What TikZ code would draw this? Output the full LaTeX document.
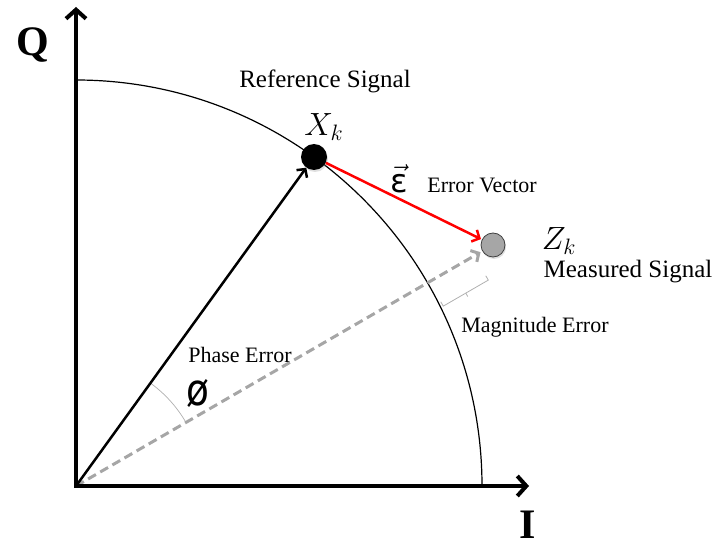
\documentclass[tikz,border=0pt]{standalone}
\usepackage{fontspec}
\setmainfont{Liberation Serif}
\newfontfamily\dejavu{DejaVu Sans}
\usetikzlibrary{arrows.meta,shadows}
\definecolor{dgray}{HTML}{A6A6A6}
\definecolor{lgray}{HTML}{B0B0B0}
\definecolor{redvec}{HTML}{FF0000}
\begin{document}
\begin{tikzpicture}[x=1pt,y=1pt,
  axisline/.style={line width=4pt, line join=miter,
    {Straight Barb[length=9pt,width=20pt]}-{Straight Barb[length=9pt,width=20pt]}},
  vecline/.style={line width=2.5pt, -{Straight Barb[length=6pt,width=13pt]}},
  lbl/.style={inner sep=0pt, font=\fontsize{22}{26}\selectfont},
  biglbl/.style={inner sep=0pt, font=\fontsize{25}{30}\selectfont},
  axlbl/.style={inner sep=0pt, font=\fontsize{42}{48}\selectfont\bfseries},
  mathlbl/.style={inner sep=0pt, font=\fontsize{20}{24}\selectfont, scale=1.55},
  dot/.style={circle, inner sep=0pt, drop shadow={opacity=0.25, shadow xshift=1pt, shadow yshift=-2pt}}
]
\useasboundingbox (0,0) rectangle (717,547);
\coordinate (O) at (76,61);
\coordinate (Qend) at (76,540);
\coordinate (Iend) at (529,61);

% reference circle arc
\draw[line width=1.2pt] (O) ++(406,0) arc[start angle=0, end angle=90, radius=406];

% phase arc
\draw[lgray, line width=0.7pt] (O) ++(30.02:127) arc[start angle=30.02, end angle=54.1, radius=127];

% magnitude error bracket
\begin{scope}[shift={(O)}, rotate=30.02]
  \draw[lgray, line width=0.8pt] (408,-23) -- (408,-28) -- (460,-28) -- (460,-23);
  \draw[lgray, line width=0.8pt] (434,-28) -- (434,-32);
\end{scope}

% dots
\node[dot, fill=black, minimum size=26pt] (Xk) at (314,390) {};
\node[dot, fill=dgray, draw=black!75, line width=0.8pt, minimum size=24pt] (Zk) at (493,302) {};

% vectors
\draw[dgray, line width=3pt, dash pattern=on 9pt off 5pt,
  -{Straight Barb[length=6pt,width=13pt]}, shorten >=2pt] (O) -- (Zk);
\draw[vecline] (O) -- (Xk);
\draw[vecline, redvec, shorten >=1pt] (Xk) -- (Zk);

% axes
\draw[axisline] (Qend) -- (O) -- (Iend);

% labels
\node[axlbl] (Q) at (33,502) {Q};
\node[axlbl] (I) at (528,22) {I};
\node[biglbl] (ref) at (325,466) {Reference Signal};
\node[mathlbl] (xk) at (324,420) {$X_k$};
\node[inner sep=0pt, font=\fontsize{24}{28}\selectfont, scale=1.35] (eps) at (399,368) {$\vec{\hbox{\dejavu ε}}$};
\node[lbl] (ev) at (482,362) {Error Vector};
\node[mathlbl] (zk) at (559,306) {$Z_k$};
\node[biglbl] (ms) at (628,275) {Measured Signal};
\node[lbl] (me) at (535,220) {Magnitude Error};
\node[lbl] (pe) at (240,192) {Phase Error};
\node[inner sep=0pt, font=\fontsize{44}{50}\selectfont\dejavu, xscale=0.85] (phi) at (198,154) {ø};
\end{tikzpicture}
\end{document}
